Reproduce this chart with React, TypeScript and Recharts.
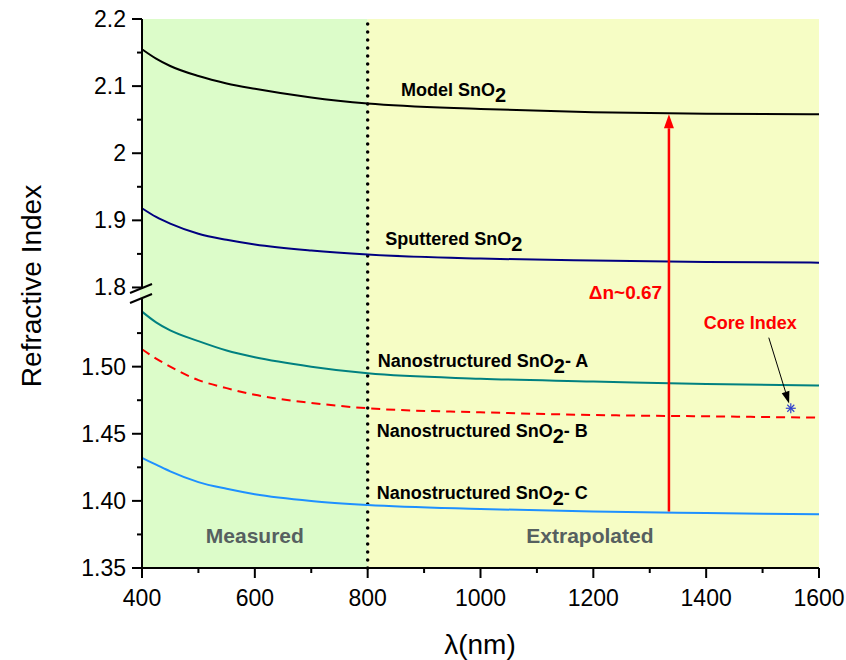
import React from 'react';
import {
  LineChart,
  Line,
  XAxis,
  YAxis,
  ReferenceArea,
  ReferenceLine,
  ReferenceDot,
} from 'recharts';

// wavelengths (nm) and refractive index
const WAVELENGTHS = [400, 425, 450, 500, 550, 600, 700, 800, 1000, 1200, 1400, 1600];
const MODEL = [2.155, 2.141, 2.13, 2.115, 2.104, 2.096, 2.083, 2.074, 2.066, 2.061, 2.059, 2.058];
const SPUTTERED = [1.918, 1.905, 1.895, 1.88, 1.871, 1.864, 1.855, 1.849, 1.843, 1.84, 1.838, 1.837];
const NANO_A = [1.541, 1.533, 1.527, 1.519, 1.512, 1.507, 1.5, 1.495, 1.491, 1.489, 1.487, 1.486];
const NANO_B = [1.513, 1.506, 1.5, 1.49, 1.484, 1.479, 1.473, 1.469, 1.466, 1.464, 1.463, 1.462];
const NANO_C = [1.432, 1.427, 1.422, 1.414, 1.409, 1.405, 1.4, 1.397, 1.394, 1.392, 1.391, 1.39];

const X_TICKS = [400, 500, 600, 700, 800, 900, 1000, 1100, 1200, 1300, 1400, 1500, 1600];
const Y_MAJOR = [1.35, 1.4, 1.45, 1.5, 1.8, 1.9, 2.0, 2.1, 2.2];
const Y_MINOR = [1.375, 1.425, 1.475, 1.525, 1.85, 1.95, 2.05, 2.15];
const Y_LABELS = ['1.35', '1.40', '1.45', '1.50', '1.8', '1.9', '2', '2.1', '2.2'];

const CORE_INDEX = { wl: 1550, n: 1.469 };
const DELTA = { wl: 1334, from: 1.392, to: 2.058 };

// broken axis: lower part 1.35..1.55 at twice the scale of the upper part 1.782..2.2
const toDisp = (v: number) => (v < 1.7 ? (v - 1.35) * 2 : 0.4 + (v - 1.782));
const Y_MAX = toDisp(2.2);

const data = WAVELENGTHS.map((wl, i) => ({
  wl,
  model: toDisp(MODEL[i]),
  sputtered: toDisp(SPUTTERED[i]),
  a: toDisp(NANO_A[i]),
  b: toDisp(NANO_B[i]),
  c: toDisp(NANO_C[i]),
}));

const FONT = '"Liberation Sans", Arial, sans-serif';
const GREEN = '#dcfcc9';
const YELLOW = '#f6fdc5';

const yTicks = [...Y_MAJOR, ...Y_MINOR].map(toDisp).sort((p, q) => p - q);

const XTick = (props: any) => {
  const { x, y, payload } = props;
  const major = payload.value % 200 === 0;
  return (
    <g>
      <line x1={x} y1={y} x2={x} y2={y + (major ? 10 : 5)} stroke="#000" strokeWidth={2} />
      {major && (
        <text x={x} y={y + 38} textAnchor="middle" fontSize={23} fontFamily={FONT} fill="#000">
          {payload.value}
        </text>
      )}
    </g>
  );
};

const YTick = (props: any) => {
  const { x, y, payload } = props;
  const idx = Y_MAJOR.findIndex((v) => Math.abs(toDisp(v) - payload.value) < 1e-6);
  const major = idx >= 0;
  return (
    <g>
      <line x1={x} y1={y} x2={x - (major ? 10 : 5)} y2={y} stroke="#000" strokeWidth={2} />
      {major && (
        <text x={x - 16} y={y + 8} textAnchor="end" fontSize={23} fontFamily={FONT} fill="#000">
          {Y_LABELS[idx]}
        </text>
      )}
    </g>
  );
};

const arrowShape = (color: string, width: number, headLen: number, headHalf: number) => (p: any) => {
  const { x1, y1, x2, y2 } = p;
  const dx = x2 - x1;
  const dy = y2 - y1;
  const len = Math.sqrt(dx * dx + dy * dy) || 1;
  const ux = dx / len;
  const uy = dy / len;
  const bx = x2 - ux * headLen;
  const by = y2 - uy * headLen;
  const pts = `${x2},${y2} ${bx - uy * headHalf},${by + ux * headHalf} ${bx + uy * headHalf},${by - ux * headHalf}`;
  return (
    <g>
      <line x1={x1} y1={y1} x2={bx} y2={by} stroke={color} strokeWidth={width} />
      <polygon points={pts} fill={color} />
    </g>
  );
};

const textShape =
  (parts: { t: string; sub?: boolean }[], opts: { size: number; color: string; anchor?: string }) =>
  (p: any) => {
    const { cx, cy } = p;
    return (
      <text
        x={cx}
        y={cy}
        fontSize={opts.size}
        fontWeight="bold"
        fontFamily={FONT}
        fill={opts.color}
        textAnchor={opts.anchor || 'start'}
      >
        {parts.map((part, i) => {
          const prevSub = i > 0 && parts[i - 1].sub;
          const dy = part.sub ? 6 : prevSub ? -6 : 0;
          return (
            <tspan key={i} dy={dy} fontSize={part.sub ? opts.size + 2 : opts.size}>
              {part.t}
            </tspan>
          );
        })}
      </text>
    );
  };

const sno2 = (suffix: string) => [{ t: 'Nanostructured SnO' }, { t: '2', sub: true }, { t: suffix }];

const BreakMark = (p: any) => {
  const { cx, cy } = p;
  return (
    <g>
      <rect x={cx - 2} y={cy - 11} width={4} height={10} fill={GREEN} />
      <line x1={cx - 12} y1={cy - 6.5} x2={cx + 10} y2={cy - 15.5} stroke="#000" strokeWidth={2} />
      <line x1={cx - 12} y1={cy + 3.5} x2={cx + 10} y2={cy - 5.5} stroke="#000" strokeWidth={2} />
    </g>
  );
};

const Asterisk = (p: any) => {
  const { cx, cy } = p;
  const r = 5;
  return (
    <g stroke="#3344cc" strokeWidth={1.2}>
      <line x1={cx - r} y1={cy} x2={cx + r} y2={cy} />
      <line x1={cx} y1={cy - r} x2={cx} y2={cy + r} />
      <line x1={cx - r * 0.7} y1={cy - r * 0.7} x2={cx + r * 0.7} y2={cy + r * 0.7} />
      <line x1={cx - r * 0.7} y1={cy + r * 0.7} x2={cx + r * 0.7} y2={cy - r * 0.7} />
    </g>
  );
};

export default function App() {
  return (
    <div style={{ position: 'absolute', left: 0, top: 0, width: 846, height: 660, background: '#fff' }}>
      <LineChart width={846} height={660} data={data} margin={{ top: 19, right: 27, bottom: 52, left: 82 }}>
        <ReferenceArea x1={400} x2={800} y1={0} y2={Y_MAX} fill={GREEN} fillOpacity={1} stroke="none" />
        <ReferenceArea x1={800} x2={1600} y1={0} y2={Y_MAX} fill={YELLOW} fillOpacity={1} stroke="none" />
        <XAxis
          dataKey="wl"
          type="number"
          domain={[400, 1600]}
          ticks={X_TICKS}
          interval={0}
          height={40}
          tickSize={0}
          tickMargin={0}
          tick={<XTick />}
          axisLine={{ stroke: '#000', strokeWidth: 2 }}
        />
        <YAxis
          type="number"
          domain={[0, Y_MAX]}
          ticks={yTicks}
          interval={0}
          width={60}
          tickSize={0}
          tickMargin={0}
          tick={<YTick />}
          axisLine={{ stroke: '#000', strokeWidth: 2 }}
          allowDataOverflow
        />
        <ReferenceLine
          x={800}
          stroke="#000"
          strokeWidth={3.5}
          strokeDasharray="0 8"
          strokeLinecap="round"
        />
        <Line dataKey="model" type="monotone" stroke="#000" strokeWidth={2} dot={false} isAnimationActive={false} />
        <Line dataKey="sputtered" type="monotone" stroke="#000080" strokeWidth={2} dot={false} isAnimationActive={false} />
        <Line dataKey="a" type="monotone" stroke="#008080" strokeWidth={2} dot={false} isAnimationActive={false} />
        <Line
          dataKey="b"
          type="monotone"
          stroke="#ff0000"
          strokeWidth={2}
          strokeDasharray="9 6"
          dot={false}
          isAnimationActive={false}
        />
        <Line dataKey="c" type="monotone" stroke="#1e90ff" strokeWidth={2} dot={false} isAnimationActive={false} />

        <ReferenceLine
          segment={[
            { x: DELTA.wl, y: toDisp(DELTA.from) },
            { x: DELTA.wl, y: toDisp(DELTA.to) },
          ]}
          shape={arrowShape('#ff0000', 2.5, 14, 5)}
        />
        <ReferenceLine
          segment={[
            { x: 1511, y: toDisp(1.5216) },
            { x: 1547, y: toDisp(1.4726) },
          ]}
          shape={arrowShape('#000', 1, 12, 4)}
        />
        <ReferenceDot x={CORE_INDEX.wl} y={toDisp(CORE_INDEX.n)} shape={Asterisk} />
        <ReferenceDot x={400} y={0.4} shape={BreakMark} ifOverflow="visible" />

        <ReferenceDot
          x={859}
          y={toDisp(2.0846)}
          shape={textShape([{ t: 'Model SnO' }, { t: '2', sub: true }], { size: 18, color: '#000' })}
        />
        <ReferenceDot
          x={831}
          y={toDisp(1.863)}
          shape={textShape([{ t: 'Sputtered SnO' }, { t: '2', sub: true }], { size: 18, color: '#000' })}
        />
        <ReferenceDot x={818} y={toDisp(1.5)} shape={textShape(sno2('- A'), { size: 18, color: '#000' })} />
        <ReferenceDot x={816} y={toDisp(1.4473)} shape={textShape(sno2('- B'), { size: 18, color: '#000' })} />
        <ReferenceDot x={816} y={toDisp(1.4013)} shape={textShape(sno2('- C'), { size: 18, color: '#000' })} />
        <ReferenceDot
          x={1322}
          y={toDisp(1.5506)}
          shape={textShape([{ t: '\u0394n~0.67' }], { size: 19, color: '#ff0000', anchor: 'end' })}
        />
        <ReferenceDot
          x={1478}
          y={toDisp(1.528)}
          shape={textShape([{ t: 'Core Index' }], { size: 18, color: '#ff0000', anchor: 'middle' })}
        />
        <ReferenceDot
          x={600}
          y={toDisp(1.3686)}
          shape={textShape([{ t: 'Measured' }], { size: 21, color: '#566060', anchor: 'middle' })}
        />
        <ReferenceDot
          x={1194}
          y={toDisp(1.3686)}
          shape={textShape([{ t: 'Extrapolated' }], { size: 21, color: '#566060', anchor: 'middle' })}
        />
      </LineChart>
      <div
        style={{
          position: 'absolute',
          left: 32,
          top: 286,
          transform: 'translate(-50%, -50%) rotate(-90deg)',
          fontFamily: FONT,
          fontSize: 28,
          whiteSpace: 'nowrap',
        }}
      >
        Refractive Index
      </div>
      <div
        style={{
          position: 'absolute',
          left: 480,
          top: 645,
          transform: 'translate(-50%, -50%)',
          fontFamily: FONT,
          fontSize: 28,
          whiteSpace: 'nowrap',
        }}
      >
        λ(nm)
      </div>
    </div>
  );
}
